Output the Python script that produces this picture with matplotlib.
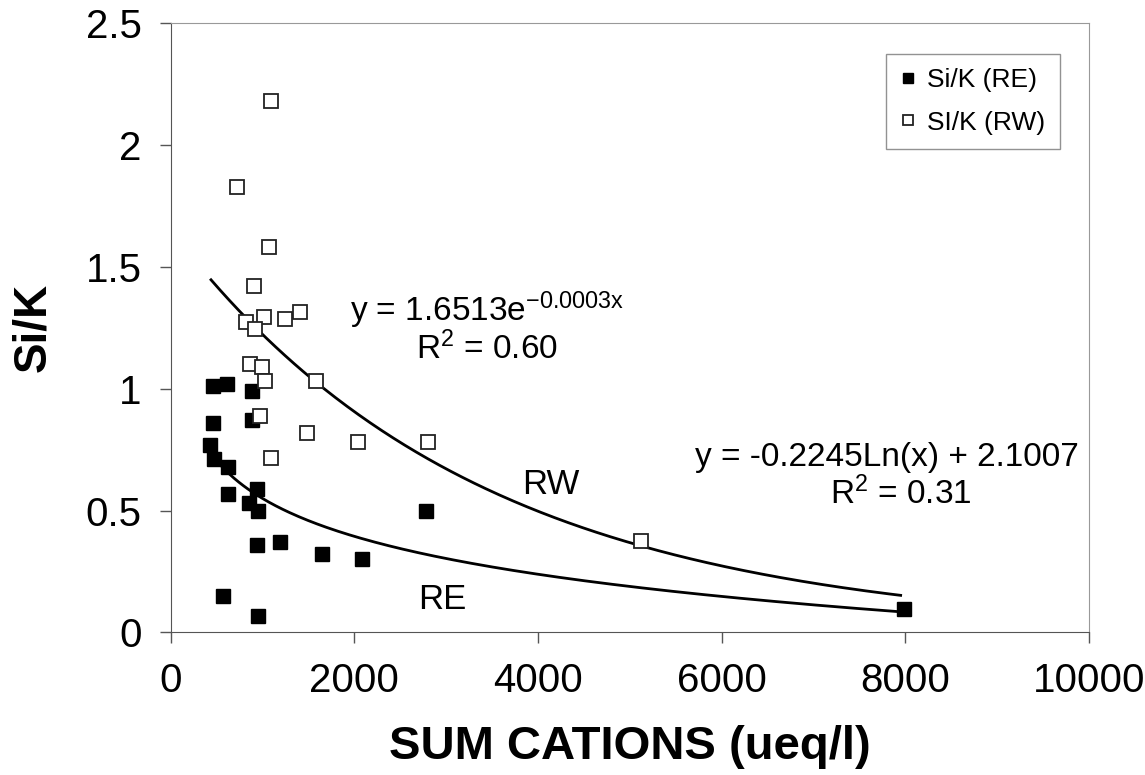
import numpy as np
import matplotlib
matplotlib.use("Agg")
import matplotlib.pyplot as plt

plt.rcParams["font.family"] = ["Liberation Sans", "DejaVu Sans"]
plt.rcParams["mathtext.default"] = "regular"

# -----------------------------------------
# data
# -----------------------------------------
re_x = [459, 612, 885, 459, 885, 427, 470, 623, 940, 623,
        853, 950, 940, 1191, 1650, 2088, 2776, 568, 951, 7990]
re_y = [1.01, 1.02, 0.99, 0.86, 0.87, 0.77, 0.71, 0.68, 0.59, 0.57,
        0.53, 0.50, 0.36, 0.37, 0.32, 0.30, 0.50, 0.15, 0.066, 0.095]

rw_x = [1093, 721, 1071, 907, 820, 1016, 918, 1246, 1410, 863,
        995, 1027, 1585, 973, 1486, 2044, 2798, 1093, 5126]
rw_y = [2.18, 1.83, 1.58, 1.42, 1.275, 1.295, 1.245, 1.287, 1.316, 1.10,
        1.09, 1.03, 1.03, 0.89, 0.82, 0.78, 0.78, 0.715, 0.374]

# trendline coefficients as printed on the chart
rw_a, rw_b = 1.6513, -0.0003
re_m, re_c = -0.2245, 2.1007
trend_start, trend_end = 440, 7950

xticks = [0, 2000, 4000, 6000, 8000, 10000]
yticks = [0, 0.5, 1, 1.5, 2, 2.5]
ytick_labels = ["0", "0.5", "1", "1.5", "2", "2.5"]

# -----------------------------------------
# plot
# -----------------------------------------
fig = plt.figure(figsize=(11.45, 7.75), dpi=100)
ax = fig.add_axes([0.149, 0.184, 0.802, 0.786])

xs = np.linspace(trend_start, trend_end, 300)
ax.plot(xs, rw_a * np.exp(rw_b * xs), color="black", lw=2)
ax.plot(xs, re_m * np.log(xs) + re_c, color="black", lw=2)

ax.plot(re_x, re_y, "s", ms=10, color="black", mec="black",
        label="Si/K (RE)", zorder=3)
ax.plot(rw_x, rw_y, "s", ms=10, mfc="white", mec="#222222", mew=1.3,
        label="SI/K (RW)", zorder=3)

ax.set_xlim(0, 10000)
ax.set_ylim(0, 2.5)
ax.set_xticks(xticks)
ax.set_xticklabels([str(t) for t in xticks])
ax.set_yticks(yticks)
ax.set_yticklabels(ytick_labels)
ax.tick_params(direction="out", length=8, width=1, color="#555555",
               labelsize=29, pad=13)

for side in ["left", "bottom"]:
    ax.spines[side].set_color("#555555")
for side in ["top", "right"]:
    ax.spines[side].set_color("#999999")

ax.set_xlabel("SUM CATIONS (ueq/l)", fontsize=34, fontweight="bold",
              labelpad=18)
ax.set_ylabel("Si/K", fontsize=33, fontweight="bold", labelpad=22)

# equations and curve labels (Excel-style, centred two-line labels)
ax.text(3446, 1.278, r"y = 1.6513e$^{-0.0003x}$", fontsize=24,
        va="baseline", ha="center")
ax.text(3446, 1.122, r"R$^2$ = 0.60", fontsize=24, va="baseline", ha="center")
ax.text(7797, 0.682, "y = -0.2245Ln(x) + 2.1007", fontsize=24,
        va="baseline", ha="center")
ax.text(7950, 0.526, r"R$^2$ = 0.31", fontsize=24, va="baseline", ha="center")
ax.text(3828, 0.566, "RW", fontsize=25, va="baseline", ha="left")
ax.text(2694, 0.094, "RE", fontsize=25, va="baseline", ha="left")

leg = ax.legend(loc="upper right", bbox_to_anchor=(0.968, 0.95),
                borderaxespad=0, fontsize=19, markerscale=0.7,
                handlelength=0.6, handletextpad=0.4, labelspacing=0.7,
                fancybox=False, frameon=True, borderpad=0.55)
leg.get_frame().set_edgecolor("#777777")
leg.get_frame().set_linewidth(1)

fig.savefig("out.png", dpi=100)
